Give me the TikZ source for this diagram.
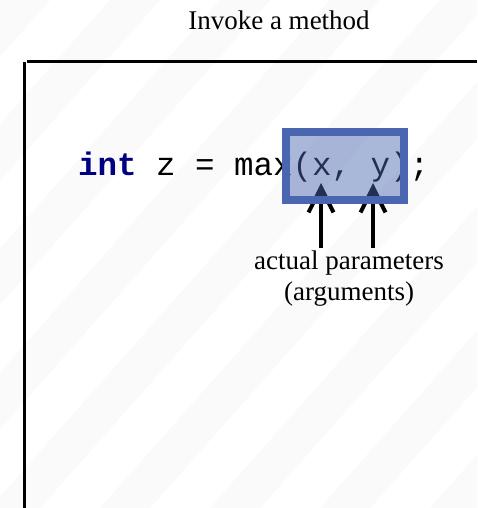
\documentclass[tikz,border=0pt]{standalone}
\usepackage{fontspec}
\setmainfont{Liberation Serif}
\newfontfamily\codefont{Liberation Mono}
\usetikzlibrary{arrows.meta}
\definecolor{boxborder}{HTML}{4A66B0}
\definecolor{kwnavy}{HTML}{000080}
\definecolor{stripegray}{HTML}{FAFAFA}
\tikzset{
  frameline/.style={line width=3.3pt, black},
  argarrow/.style={line width=4pt, black, -{Straight Barb[length=25pt,width=25pt]}, line join=miter},
  hlbox/.style={draw=boxborder, line width=8pt, fill=boxborder, fill opacity=0.47,
    minimum width=118pt, minimum height=68pt, inner sep=0pt},
  serifbig/.style={font=\fontsize{27}{32}\selectfont, inner sep=0pt},
  codestyle/.style={font=\codefont\fontsize{32.5}{39}\selectfont, inner sep=0pt}
}
\begin{document}
\begin{tikzpicture}[x=1pt,y=-1pt]
\useasboundingbox (0,0) rectangle (477,508);
\fill[white] (0,0) rectangle (477,508);
% faint diagonal background stripes
\begin{scope}
\clip (0,0) rectangle (477,508);
\foreach \s in {-450,-340,...,600}{
  \fill[stripegray] (\s,508) -- (\s+50,508) -- (\s+50+450,0) -- (\s+450,0) -- cycle;
}
\end{scope}
% frame lines
\coordinate (ftl) at (24.3,61.3);
\coordinate (ftr) at (477,61.3);
\coordinate (fbl) at (24.3,508);
\draw[frameline] ([xshift=2.4pt]ftl) -- (ftr);
\draw[frameline] ([yshift=-0.4pt]ftl) -- (fbl);
% title
\node[serifbig, anchor=base] (title) at (279,30) {Invoke a method};
% code line
\node[codestyle, anchor=base west] (code) at (78,175) {\textcolor{kwnavy}{\textbf{int}} z = max(x, y);};
% label
\node[serifbig, align=center, anchor=base] (lab) at (349,300) {actual parameters\\[-1pt](arguments)};
% arrows
\coordinate (tipL) at (321,183);
\coordinate (tipR) at (373,183);
\coordinate (fromL) at (321,248);
\coordinate (fromR) at (373,248);
\draw[argarrow] (fromL) -- (tipL);
\draw[argarrow] (fromR) -- (tipR);
% highlight box
\node[hlbox] (box) at (345.3,166.3) {};
\end{tikzpicture}
\end{document}
